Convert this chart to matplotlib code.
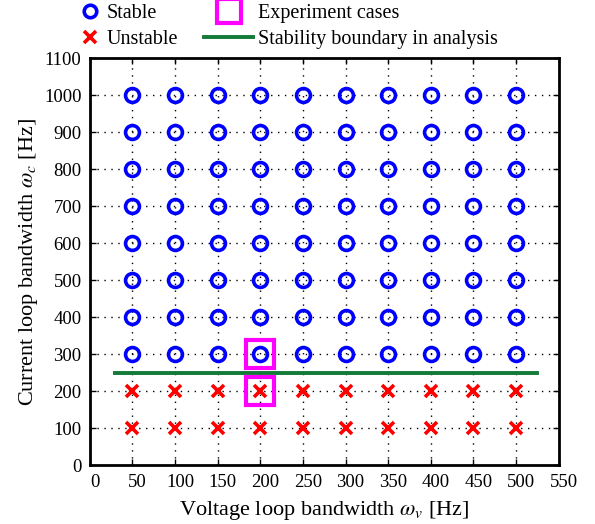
import numpy as np
import matplotlib.pyplot as plt
import matplotlib.transforms as mtransforms
from matplotlib.lines import Line2D

plt.rcParams['font.family'] = ['Liberation Serif', 'DejaVu Serif']
plt.rcParams['mathtext.fontset'] = 'stix'

# voltage / current loop bandwidths tested [Hz]
wv = [50, 100, 150, 200, 250, 300, 350, 400, 450, 500]
wc_stable = [300, 400, 500, 600, 700, 800, 900, 1000]
wc_unstable = [100, 200]

# experiment cases (wv, wc)
exp_wv = [200, 200]
exp_wc = [300, 200]

# analytical stability boundary
bound_wv = [30, 525]
bound_wc = [250, 250]

xs, ys = np.meshgrid(wv, wc_stable)
xu, yu = np.meshgrid(wv, wc_unstable)

fig = plt.figure(figsize=(5.95, 5.24), dpi=100)
ax = fig.add_axes([0.151, 0.112, 0.788, 0.777])

ax.plot(bound_wv, bound_wc, color='#137a37', lw=2.8, zorder=2)
ax.plot(xs.ravel(), ys.ravel(), 'o', ms=10, mfc='none', mec='#0000ff', mew=2.6, ls='none', zorder=3)
ax.plot(xu.ravel(), yu.ravel(), 'x', ms=8, mec='#ff0000', mew=2.6, ls='none', zorder=3)
ax.plot(exp_wv, exp_wc, 's', ms=20.5, mfc='none', mec='#ff00ff', mew=3, ls='none', zorder=4)

ax.set_xlim(0, 550)
ax.set_ylim(0, 1100)
ax.set_xticks(np.arange(0, 551, 50))
ax.set_yticks(np.arange(0, 1101, 100))
ax.grid(True, color='black', ls=(0, (1, 4)), lw=1.0)
ax.tick_params(direction='in', top=True, right=True, length=4, width=1, labelsize=13.5, pad=6)
for s in ax.spines.values():
    s.set_linewidth(2)

# x tick labels sit a little to the right of their ticks
shift = mtransforms.ScaledTranslation(0.05, 0, fig.dpi_scale_trans)
for lbl in ax.get_xticklabels():
    lbl.set_transform(lbl.get_transform() + shift)

ax.set_xlabel(r'Voltage loop bandwidth $\omega_v$ [Hz]', fontsize=16, labelpad=6)
ax.set_ylabel(r'Current loop bandwidth $\omega_c$ [Hz]', fontsize=16, labelpad=3)

# legend in two columns above the axes
h_stable = Line2D([], [], marker='o', ms=9, mfc='none', mec='#0000ff', mew=2.6, ls='none')
h_unstable = Line2D([], [], marker='x', ms=9, mec='#ff0000', mew=2.6, ls='none')
h_exp = Line2D([], [], marker='s', ms=17, mfc='none', mec='#ff00ff', mew=3, ls='none')
h_bound = Line2D([], [], color='#137a37', lw=2.8)

leg_kw = dict(loc='upper left', frameon=False, fontsize=14.5, borderpad=0,
              borderaxespad=0, labelspacing=0.35)
fig.legend([h_stable, h_unstable], ['Stable', 'Unstable'],
           bbox_to_anchor=(80 / 595, 1 - 4 / 524), handlelength=1.0,
           handletextpad=0.3, **leg_kw)
fig.legend([h_exp, h_bound], ['Experiment cases', 'Stability boundary in analysis'],
           bbox_to_anchor=(204 / 595, 1 - 4 / 524), handlelength=2.45,
           handletextpad=0.25, **leg_kw)

fig.savefig('out.png', dpi=100)
